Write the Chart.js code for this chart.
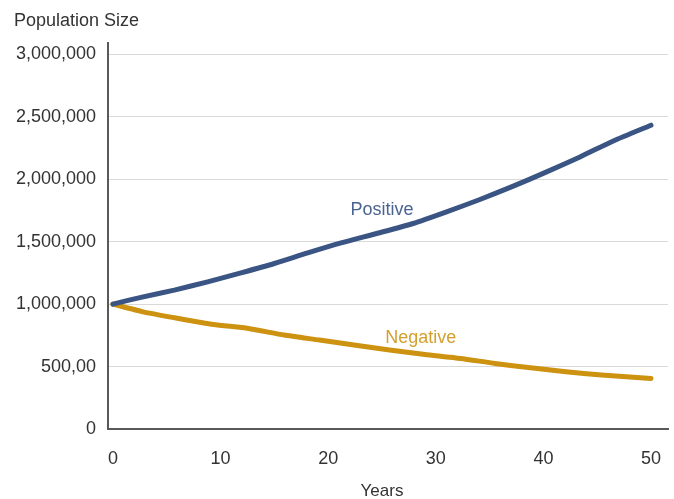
<!DOCTYPE html>
<html>
<head>
<meta charset="utf-8">
<script src="https://cdn.jsdelivr.net/npm/chart.js@4/dist/chart.umd.min.js"></script>
<style>
  html, body { margin: 0; padding: 0; background: #ffffff; }
  #wrap { width: 674px; height: 499px; position: relative; }
</style>
</head>
<body>
<div id="wrap"><canvas id="c" width="674" height="499"></canvas></div>
<script>
// ---- data ----
const positiveYears  = [0, 2.6, 5.7, 8.8, 11.9, 15.0, 18.1, 21.2, 24.5, 27.9, 31.0, 34.1, 37.2, 40.3, 43.4, 46.5, 50];
const positiveValues = [1000000, 1054000, 1112000, 1178000, 1250000, 1325000, 1410000, 1490000, 1565000, 1645000, 1738000, 1837000, 1944000, 2058000, 2178000, 2306000, 2432000];

const negativeYears  = [0, 2.8, 6.1, 9.35, 12.6, 15.9, 19.2, 22.4, 25.7, 29.0, 32.3, 35.5, 38.8, 42.1, 45.4, 50];
const negativeValues = [1000000, 938000, 885000, 837000, 805000, 752000, 712000, 672000, 632000, 597000, 565000, 525000, 490000, 458000, 432000, 405000];

const xTickValues = [0, 10, 20, 30, 40, 50];
const yTickValues = [0, 500000, 1000000, 1500000, 2000000, 2500000, 3000000];
const yTickLabels = ['0', '500,00', '1,000,000', '1,500,000', '2,000,000', '2,500,000', '3,000,000'];

const seriesNames = ['Positive', 'Negative'];
const yTitle = 'Population Size';
const xTitle = 'Years';

// ---- styling ----
const FONT = '"Liberation Sans", Arial, sans-serif';
const colPos = '#3a5583';
const colNeg = '#cc9210';
const labelPosCol = '#4a6392';
const labelNegCol = '#d3a030';
const labelAnchors = [{ x: 25.0, y: 1712000 }, { x: 28.6, y: 685600 }];

const toPts = (xs, ys) => xs.map((x, i) => ({ x: x, y: ys[i] }));

const textPlugin = {
  id: 'texts',
  afterDraw(chart) {
    const ctx = chart.ctx;
    const xs = chart.scales.x, ys = chart.scales.y;
    ctx.save();
    ctx.font = '18px ' + FONT;
    ctx.fillStyle = '#333333';
    ctx.textAlign = 'left';
    ctx.textBaseline = 'alphabetic';
    ctx.fillText(yTitle, 14, 26);
    ctx.font = '17px ' + FONT;
    ctx.textAlign = 'center';
    ctx.fillText(xTitle, xs.getPixelForValue(25), 496);
    ctx.font = '18px ' + FONT;
    ctx.fillStyle = labelPosCol;
    ctx.fillText(seriesNames[0], xs.getPixelForValue(labelAnchors[0].x), ys.getPixelForValue(labelAnchors[0].y));
    ctx.fillStyle = labelNegCol;
    ctx.fillText(seriesNames[1], xs.getPixelForValue(labelAnchors[1].x), ys.getPixelForValue(labelAnchors[1].y));
    ctx.restore();
  }
};

new Chart(document.getElementById('c'), {
  type: 'line',
  data: {
    datasets: [
      {
        label: seriesNames[0],
        data: toPts(positiveYears, positiveValues),
        borderColor: colPos,
        backgroundColor: colPos,
        borderWidth: 5,
        pointRadius: 0,
        tension: 0.2,
        borderCapStyle: 'round',
        borderJoinStyle: 'round'
      },
      {
        label: seriesNames[1],
        data: toPts(negativeYears, negativeValues),
        borderColor: colNeg,
        backgroundColor: colNeg,
        borderWidth: 5,
        pointRadius: 0,
        tension: 0.2,
        borderCapStyle: 'round',
        borderJoinStyle: 'round'
      }
    ]
  },
  options: {
    responsive: false,
    animation: false,
    devicePixelRatio: 1,
    layout: { padding: { top: 43, right: 6, left: 0, bottom: 0 } },
    plugins: {
      legend: { display: false },
      tooltip: { enabled: false },
      title: { display: false }
    },
    scales: {
      x: {
        type: 'linear',
        min: -0.46,
        max: 51.58,
        afterBuildTicks(scale) { scale.ticks = xTickValues.map(v => ({ value: v })); },
        afterFit(scale) { scale.height = 70; scale.paddingRight = 0; scale.paddingLeft = 0; },
        grid: { display: false, drawTicks: false },
        border: { display: true, color: '#595959', width: 2 },
        ticks: {
          color: '#333333',
          font: { family: FONT, size: 18 },
          padding: 19,
          maxRotation: 0,
          autoSkip: false,
          callback: v => String(v)
        }
      },
      y: {
        type: 'linear',
        min: 0,
        max: 3090000,
        afterBuildTicks(scale) { scale.ticks = yTickValues.map(v => ({ value: v })); },
        afterFit(scale) { scale.width = 108; scale.paddingTop = 0; scale.paddingBottom = 0; },
        grid: { display: true, drawTicks: false, color: '#d9d9d9', lineWidth: 1 },
        border: { display: true, color: '#595959', width: 2 },
        ticks: {
          color: '#333333',
          font: { family: FONT, size: 18 },
          padding: 12,
          autoSkip: false,
          callback: (v) => { const i = yTickValues.indexOf(v); return i >= 0 ? yTickLabels[i] : ''; }
        }
      }
    }
  },
  plugins: [textPlugin]
});
</script>
</body>
</html>
